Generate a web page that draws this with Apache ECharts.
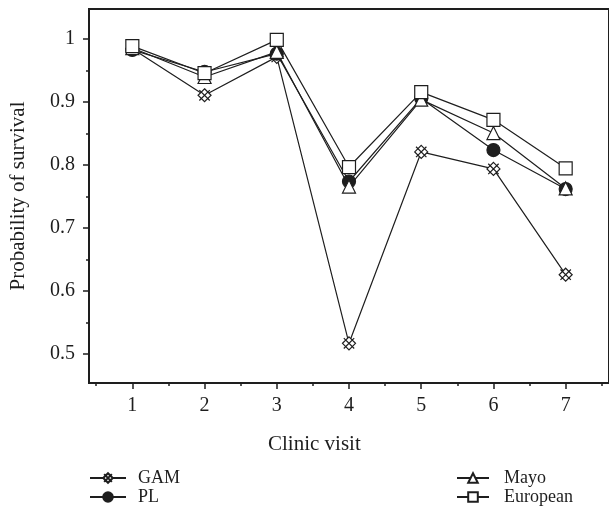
<!DOCTYPE html>
<html>
<head>
<meta charset="utf-8">
<script src="https://cdn.jsdelivr.net/npm/echarts@6/dist/echarts.min.js"></script>
<style>html,body{margin:0;padding:0;background:#fff}#c{width:609px;height:512px}</style>
</head>
<body>
<div id="c"></div>
<script>
var visits = [1, 2, 3, 4, 5, 6, 7];
var gam = [0.985, 0.911, 0.972, 0.517, 0.821, 0.794, 0.626];
var pl = [0.983, 0.948, 0.977, 0.774, 0.906, 0.824, 0.762];
var mayo = [0.986, 0.940, 0.980, 0.766, 0.904, 0.851, 0.763];
var european = [0.989, 0.946, 0.999, 0.797, 0.916, 0.872, 0.795];
var yTicks = [0.5, 0.6, 0.7, 0.8, 0.9, 1];
var yMinorTicks = [0.55, 0.65, 0.75, 0.85, 0.95];
var xMinorTicks = [0.5, 1.5, 2.5, 3.5, 4.5, 5.5, 6.5, 7.5];
var legendNames = ['GAM', 'PL', 'Mayo', 'European'];

var ink = '#1e1e1e';
var serif = '"Liberation Serif", "DejaVu Serif", serif';
function pts(arr) { return visits.map(function (v, i) { return [v, arr[i]]; }); }

var gamSymbol = 'path://M10 0 L20 10 L10 20 L0 10 Z M2 2 L18 18 M18 2 L2 18';

function mk(name, data, symbol, size, fill) {
  return {
    name: name, type: 'line', data: pts(data),
    symbol: symbol, symbolSize: size,
    lineStyle: { color: ink, width: 1.2 },
    itemStyle: { color: fill, borderColor: ink, borderWidth: 1.2 },
    emphasis: { disabled: true },
    animation: false, z: 3
  };
}

var legendPos = [[89, 469, 36, 7], [89, 488, 36, 7], [456, 469, 32, 10], [456, 488, 32, 10]];
var legends = legendNames.map(function (n, i) {
  var p = legendPos[i];
  return {
    data: [n],
    orient: 'vertical', left: p[0], top: p[1],
    itemWidth: p[2], itemHeight: 12, padding: 0, selectedMode: false,
    textStyle: { color: ink, fontFamily: serif, fontSize: 18, padding: [0, 0, 0, p[3]] }
  };
});

var chart = echarts.init(document.getElementById('c'));
chart.setOption({
  backgroundColor: '#fff',
  animation: false,
  grid: { left: 88, top: 9, right: -3, bottom: 129, show: true, borderColor: ink, borderWidth: 2, backgroundColor: 'transparent' },
  xAxis: [
    { type: 'value', min: 0.4, max: 7.6,
      axisLine: { show: true, lineStyle: { color: ink, width: 2 } },
      axisTick: { show: true, customValues: visits, length: 6, lineStyle: { color: ink, width: 1.5 } },
      axisLabel: { customValues: visits, color: ink, fontFamily: serif, fontSize: 20, margin: 13 },
      splitLine: { show: false } },
    { type: 'value', min: 0.4, max: 7.6, position: 'bottom',
      axisLine: { show: false },
      axisTick: { show: true, customValues: xMinorTicks, length: 3, lineStyle: { color: ink, width: 1.5 } },
      axisLabel: { show: false }, splitLine: { show: false } }
  ],
  yAxis: [
    { type: 'value', min: 0.454, max: 1.048,
      name: 'Probability of survival', nameLocation: 'middle', nameGap: 60,
      nameTextStyle: { color: ink, fontFamily: serif, fontSize: 21 },
      axisLine: { show: true, lineStyle: { color: ink, width: 2 } },
      axisTick: { show: true, customValues: yTicks, length: 6, lineStyle: { color: ink, width: 1.5 } },
      axisLabel: { customValues: yTicks, color: ink, fontFamily: serif, fontSize: 20, margin: 14 },
      splitLine: { show: false } },
    { type: 'value', min: 0.454, max: 1.048, position: 'left',
      axisLine: { show: false },
      axisTick: { show: true, customValues: yMinorTicks, length: 3, lineStyle: { color: ink, width: 1.5 } },
      axisLabel: { show: false }, splitLine: { show: false } }
  ],
  legend: legends,
  graphic: [
    { type: 'text', left: 268, top: 434, style: { text: 'Clinic visit', fill: ink, font: '21px ' + serif } }
  ],
  series: [
    mk('GAM', gam, gamSymbol, 13, '#fff'),
    mk('PL', pl, 'circle', 13, ink),
    mk('Mayo', mayo, 'triangle', 13, '#fff'),
    mk('European', european, 'rect', 13, '#fff')
  ]
});
</script>
</body>
</html>
